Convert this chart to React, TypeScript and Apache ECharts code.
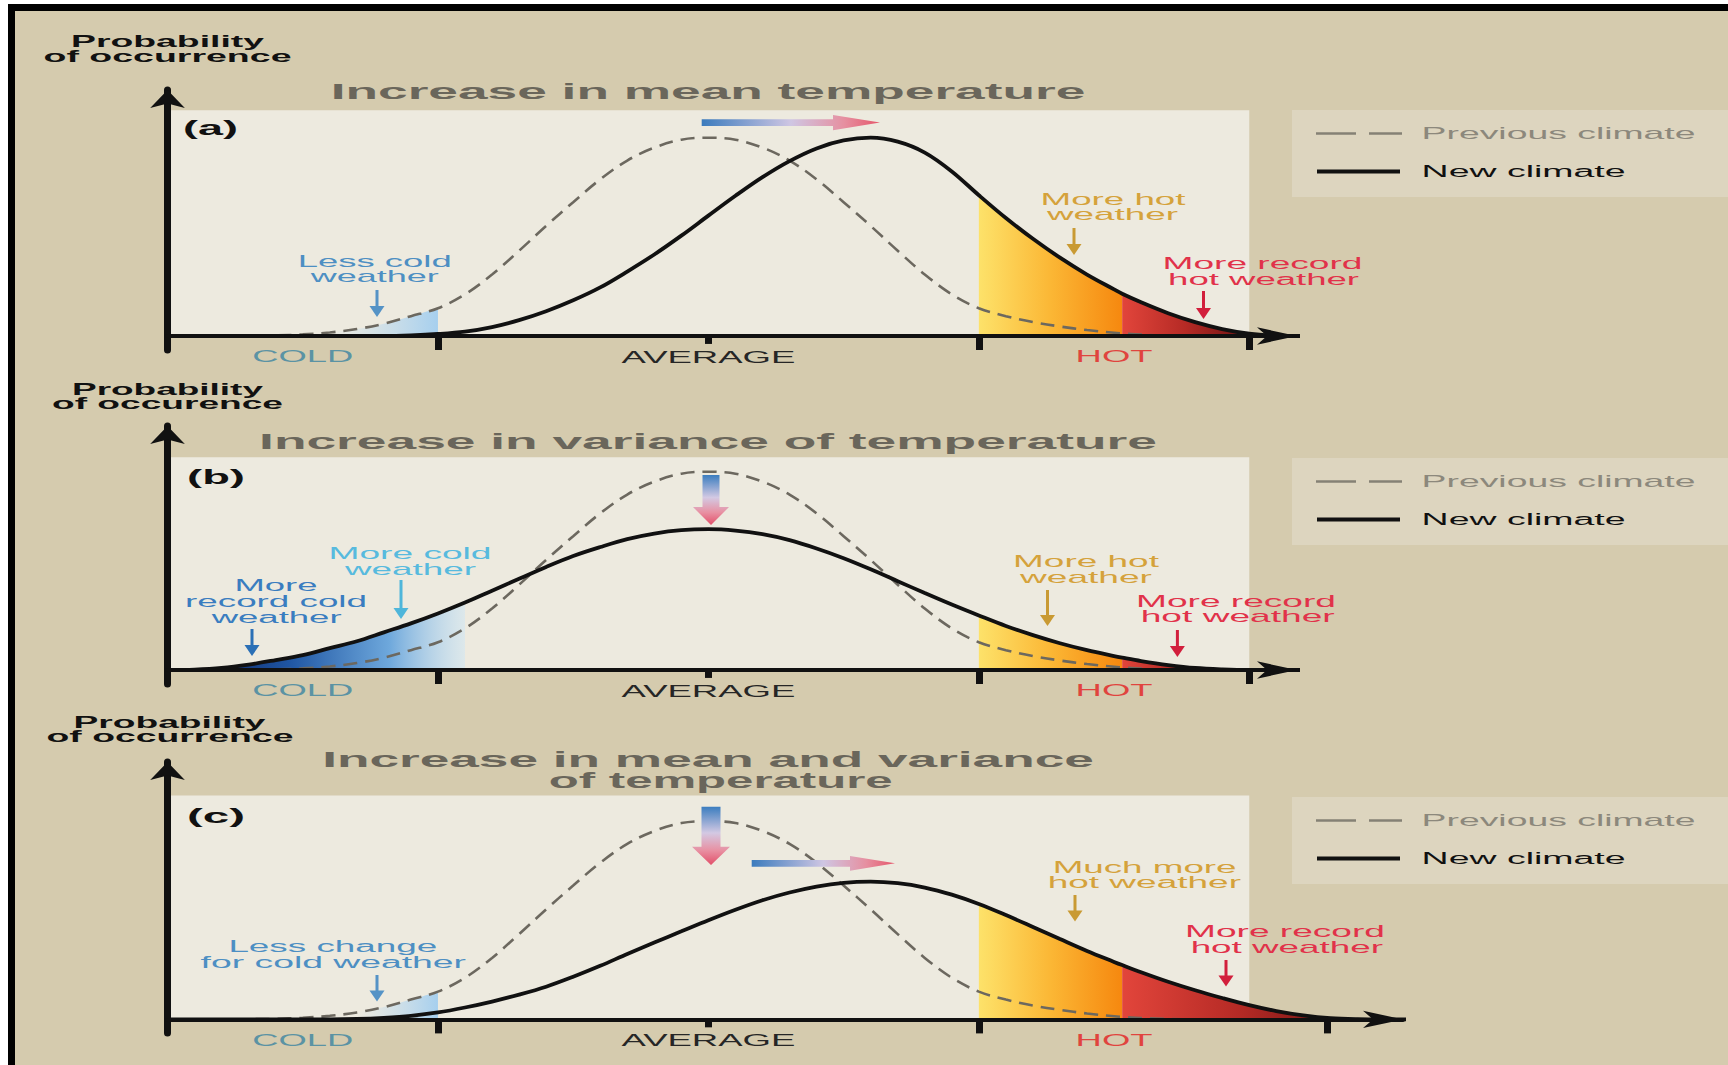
import React, { useEffect, useRef } from "react";
import * as echarts from "echarts";

// ---------------- data ----------------
// x: temperature, in steps of the reference's tick spacing (AVERAGE = 0)
const XS = [-2.0, -1.9, -1.8, -1.7, -1.6, -1.5, -1.4, -1.3, -1.2, -1.1, -1.0, -0.9, -0.8, -0.7, -0.6, -0.5, -0.4, -0.3, -0.2, -0.1, 0.0, 0.1, 0.2, 0.3, 0.4, 0.5, 0.6, 0.7, 0.8, 0.9, 1.0, 1.1, 1.2, 1.3, 1.4, 1.5, 1.53, 1.6, 1.7, 1.8, 1.9, 2.0, 2.1, 2.2, 2.3, 2.4, 2.5, 2.6];
// probability of occurrence, previous-climate peak = 1
const PREV = [0, 0, 0, 0.001, 0.003, 0.008, 0.018, 0.035, 0.062, 0.1, 0.14, 0.21, 0.31, 0.43, 0.555, 0.675, 0.79, 0.885, 0.95, 0.99, 1.0, 0.99, 0.95, 0.885, 0.79, 0.675, 0.555, 0.43, 0.31, 0.21, 0.14, 0.1, 0.07, 0.048, 0.03, 0.016, 0.013, 0.007, 0.002, 0, 0, 0, 0, 0, 0, 0, 0, 0];
const NEW_A = [0, 0, 0, 0, 0, 0, 0, 0, 0, 0.003, 0.01, 0.022, 0.045, 0.08, 0.125, 0.18, 0.245, 0.325, 0.411, 0.506, 0.607, 0.707, 0.801, 0.882, 0.946, 0.986, 1.0, 0.98, 0.925, 0.83, 0.71, 0.595, 0.49, 0.395, 0.31, 0.235, 0.213, 0.17, 0.115, 0.07, 0.035, 0.012, 0.002, 0, 0, 0, 0, 0];
const NEW_B = [0, 0.002, 0.01, 0.027, 0.05, 0.075, 0.11, 0.145, 0.19, 0.235, 0.285, 0.34, 0.4, 0.46, 0.52, 0.575, 0.62, 0.66, 0.688, 0.705, 0.71, 0.703, 0.685, 0.655, 0.613, 0.564, 0.508, 0.448, 0.388, 0.33, 0.275, 0.222, 0.176, 0.135, 0.1, 0.07, 0.062, 0.045, 0.025, 0.01, 0.003, 0, 0, 0, 0, 0, 0, 0];
const NEW_C = [0, 0, 0, 0, 0, 0, 0, 0.002, 0.008, 0.018, 0.035, 0.06, 0.09, 0.125, 0.165, 0.215, 0.27, 0.33, 0.388, 0.444, 0.5, 0.553, 0.601, 0.64, 0.67, 0.689, 0.695, 0.687, 0.665, 0.629, 0.582, 0.526, 0.466, 0.405, 0.345, 0.29, 0.274, 0.238, 0.19, 0.147, 0.108, 0.072, 0.042, 0.02, 0.006, 0.001, 0, 0];
const NEW_CLIMATE = [NEW_A, NEW_B, NEW_C];

const TICK_VALUES = [[-1, 1, 2], [-1, 1, 2], [-1, 1, 2.29]];
const AVERAGE_TICK = 0;
const TICK_LABELS = ["COLD", "AVERAGE", "HOT"];
const TICK_LABEL_VALUES = [-1.5, 0, 1.5];
const PANEL_LABELS = ["(a)", "(b)", "(c)"];
const TITLES = [["Increase in mean temperature"], ["Increase in variance of temperature"], ["Increase in mean and variance", "of temperature"]];
const Y_TITLES = [["Probability", "of occurrence"], ["Probability", "of occurence"], ["Probability", "of occurrence"]];
const LEGEND_NAMES = ["Previous climate", "New climate"];
const PLOT_TOP = [1.139, 1.073, 1.129];
const PLOT_RIGHT = 2;
// shaded tails: [curve, from, to, shade]
const FILLS = [
  [["prev", -1.4, -1.0, "light"], ["new", 1.0, 1.53, "hot"], ["new", 1.53, 2.0, "record"]],
  [["new", -1.9, -0.9, "deep"], ["new", 1.0, 1.53, "hot"], ["new", 1.53, 1.9, "record"]],
  [["prev", -1.3, -1.0, "light"], ["new", 1.0, 1.53, "hot"], ["new", 1.53, 2.4, "record"]],
];
const NOTE_TEXTS = [
  ["Less cold", "weather"],
  ["More hot", "weather"],
  ["More record", "hot weather"],
  ["More cold", "weather"],
  ["More", "record cold", "weather"],
  ["More hot", "weather"],
  ["More record", "hot weather"],
  ["Less change", "for cold weather"],
  ["Much more", "hot weather"],
  ["More record", "hot weather"],
];

// ---------------- layout & style ----------------
const W = 1728;
const H = 1065;
const X0 = 708.4; // pixel of x = 0
const PXU = 270.44; // pixels per x unit
const PYU = 198.3; // pixels per y unit
const X_MIN = -2;
const AXIS_Y = [336, 670, 1019.4];
const X_TIP = [1317, 1317, 1423];
const Y_TIP = [81, 417, 753];
const Y_BOTTOM = [350, 684, 1033];
const X_ARROW = [13, 40];
const Y_ARROW = [26, 18];
const SMOOTH = 0.35;
const FONT = "Liberation Sans";

const PAGE_BG = "#d5cbae";
const PLOT_BG = "#edeadf";
const LEGEND_BG = "#ddd5bf";
const INK = "#111111";
const DASH = "#6c685f";
const TITLE_C = "#6a665b";
const PREV_TEXT = "#8c887c";

const BLUE = "#4d8fc3";
const CYAN = "#57bade";
const MBLUE = "#3a7dc0";
const GOLD = "#d5a23b";
const RED = "#e1324a";
const TICK_LABEL_COLORS = ["#5b93a4", "#262626", "#e0443e"];
const TICK_LABEL_WIDTHS = [101, 174, 77];

const Y_TITLE_POS = [
  [[167.5, 41.5, 193], [167.5, 56.5, 248]],
  [[167.5, 389, 191], [167.5, 403.5, 231]],
  [[169.5, 722, 192], [170, 736.5, 247]],
];
const TITLE_POS = [
  [[708, 91.5, 755]],
  [[708, 441.5, 898]],
  [[708, 759, 772], [720.7, 780.5, 344]],
];
const PANEL_LABEL_POS = [[210.5, 128, 55], [216, 477, 58], [216, 816.5, 58]];
const LEGEND_TOP = [110, 458, 797];

const NOTE_LAYOUT = [
  { c: BLUE, a: "#5593c6", pos: [[374.7, 261.5, 154], [374.7, 277, 128]], arrow: [377, 290, 317] },
  { c: GOLD, a: "#c99a33", pos: [[1113, 199.5, 145], [1112.5, 214, 131]], arrow: [1074, 228, 255] },
  { c: RED, a: "#d21f3c", pos: [[1262.5, 263.5, 200], [1263.5, 279, 191]], arrow: [1203.5, 291, 319] },
  { c: CYAN, a: "#4fb6da", pos: [[410, 553, 163], [410.5, 569, 131]], arrow: [401, 580, 619] },
  { c: MBLUE, a: "#2b70b6", pos: [[276, 586, 83], [276, 601.5, 182], [276.6, 617, 130]], arrow: [252, 629, 656] },
  { c: GOLD, a: "#c99a33", pos: [[1086, 561.5, 146], [1086, 577, 132]], arrow: [1047.5, 590, 626] },
  { c: RED, a: "#d21f3c", pos: [[1236, 601.5, 200], [1237.7, 616.7, 194]], arrow: [1177.4, 630, 657] },
  { c: BLUE, a: "#5593c6", pos: [[332.8, 946.5, 209], [333.3, 962, 265.6]], arrow: [377, 975, 1001.5] },
  { c: GOLD, a: "#c99a33", pos: [[1144.6, 867, 184], [1144.3, 882.7, 193.5]], arrow: [1075, 895, 921.5] },
  { c: RED, a: "#d21f3c", pos: [[1285, 931.5, 200], [1286.8, 947, 192.5]], arrow: [1226, 960, 986.5] },
];

function shade(kind: string) {
  const G = echarts.graphic.LinearGradient;
  if (kind === "light")
    return new G(0, 0, 1, 0, [
      { offset: 0, color: "rgba(190,220,242,0)" },
      { offset: 1, color: "#a6cfee" },
    ]);
  if (kind === "deep")
    return new G(0, 0, 1, 0, [
      { offset: 0, color: "#0a1f5c" },
      { offset: 0.35, color: "#1f56a3" },
      { offset: 0.72, color: "#6ea8dc" },
      { offset: 1, color: "rgba(205,230,246,0.5)" },
    ]);
  if (kind === "hot")
    return new G(0, 0, 1, 0, [
      { offset: 0, color: "#fde26a" },
      { offset: 0.5, color: "#fbb735" },
      { offset: 1, color: "#f6880f" },
    ]);
  return new G(0, 0, 1, 0, [
    { offset: 0, color: "#e2453b" },
    { offset: 0.5, color: "#b52a25" },
    { offset: 1, color: "#6a1212" },
  ]);
}

function buildOption() {
  const grid: any[] = [];
  const xAxis: any[] = [];
  const yAxis: any[] = [];
  const series: any[] = [];
  for (let i = 0; i < 3; i++) {
    const xMax = (X_TIP[i] - X_ARROW[1] / 2 - X0) / PXU;
    const yMax = (AXIS_Y[i] - Y_TIP[i] - Y_ARROW[1] / 2) / PYU;
    const yMin = -(Y_BOTTOM[i] - AXIS_Y[i]) / PYU;
    grid.push({
      left: X0 + X_MIN * PXU,
      top: AXIS_Y[i] - yMax * PYU,
      width: (xMax - X_MIN) * PXU,
      height: (yMax - yMin) * PYU,
    });
    xAxis.push({
      gridIndex: i,
      type: "value",
      min: X_MIN,
      max: xMax,
      z: 5,
      axisLine: {
        show: true,
        onZero: true,
        symbol: ["none", "arrow"],
        symbolSize: X_ARROW,
        lineStyle: { color: INK, width: 4 },
      },
      axisTick: { show: true, customValues: TICK_VALUES[i], length: 14, lineStyle: { color: INK, width: 7 } },
      axisLabel: { show: false },
      splitLine: { show: false },
    });
    yAxis.push({
      gridIndex: i,
      type: "value",
      min: yMin,
      max: yMax,
      z: 5,
      axisLine: {
        show: true,
        onZero: false,
        symbol: ["none", "arrow"],
        symbolSize: Y_ARROW,
        lineStyle: { color: INK, width: 7 },
      },
      axisTick: { show: false },
      axisLabel: { show: false },
      splitLine: { show: false },
    });
    // plot background + short AVERAGE tick
    series.push({
      type: "line",
      xAxisIndex: i,
      yAxisIndex: i,
      data: [[X_MIN, 0]],
      symbol: "none",
      lineStyle: { opacity: 0 },
      silent: true,
      z: 1,
      markArea: {
        silent: true,
        itemStyle: { color: PLOT_BG },
        data: [[{ coord: [X_MIN, 0] }, { coord: [PLOT_RIGHT, PLOT_TOP[i]] }]],
      },
      markLine: {
        silent: true,
        symbol: ["none", "none"],
        label: { show: false },
        lineStyle: { color: INK, width: 7, type: "solid" },
        data: [[{ coord: [AVERAGE_TICK, 0] }, { coord: [AVERAGE_TICK, -0.04] }]],
      },
    });
    const newC = NEW_CLIMATE[i];
    FILLS[i].forEach((f: any) => {
      const curve = f[0] === "prev" ? PREV : newC;
      const data = XS.map((x, k) => [x, curve[k]]).filter((p) => p[0] >= f[1] - 1e-6 && p[0] <= f[2] + 1e-6);
      series.push({
        type: "line",
        xAxisIndex: i,
        yAxisIndex: i,
        data,
        smooth: SMOOTH,
        symbol: "none",
        silent: true,
        z: 2,
        lineStyle: { width: 0, opacity: 0 },
        areaStyle: { color: shade(f[3]), opacity: 1 },
      });
    });
    series.push({
      name: LEGEND_NAMES[0],
      type: "line",
      xAxisIndex: i,
      yAxisIndex: i,
      data: XS.map((x, k) => [x, PREV[k]]),
      smooth: SMOOTH,
      symbol: "none",
      silent: true,
      z: 3,
      lineStyle: { color: DASH, width: 2.6, type: [14, 8] },
    });
    series.push({
      name: LEGEND_NAMES[1],
      type: "line",
      xAxisIndex: i,
      yAxisIndex: i,
      data: XS.map((x, k) => [x, newC[k]]),
      smooth: SMOOTH,
      symbol: "none",
      silent: true,
      z: 4,
      lineStyle: { color: INK, width: 3.8 },
    });
  }
  return {
    animation: false,
    backgroundColor: PAGE_BG,
    grid,
    xAxis,
    yAxis,
    series,
  };
}

let measureCtx: any = null;
function measure(text: string, size: number, weight: string) {
  if (!measureCtx) measureCtx = document.createElement("canvas").getContext("2d");
  measureCtx.font = `${weight} ${size}px "${FONT}"`;
  return measureCtx.measureText(text).width || 1;
}

function txt(text: string, x: number, y: number, width: number, size: number, weight: string, color: string, align = "center") {
  const sx = width / measure(text, size, weight);
  return {
    type: "text",
    x,
    y,
    scaleX: sx,
    scaleY: 1,
    silent: true,
    z: 20,
    style: {
      text,
      fill: color,
      fontSize: size,
      fontWeight: weight,
      fontFamily: FONT,
      textAlign: align,
      textVerticalAlign: "middle",
      align,
      verticalAlign: "middle",
    },
  };
}

function thinArrow(x: number, y1: number, y2: number, color: string) {
  return [
    { type: "line", silent: true, z: 20, shape: { x1: x, y1, x2: x, y2: y2 - 8 }, style: { stroke: color, lineWidth: 3 } },
    {
      type: "polygon",
      silent: true,
      z: 20,
      shape: { points: [[x - 7.5, y2 - 11], [x + 7.5, y2 - 11], [x, y2]] },
      style: { fill: color },
    },
  ];
}

function hGradArrow(x1: number, hx: number, x2: number, cy: number, sh: number, hh: number) {
  return {
    type: "polygon",
    silent: true,
    z: 20,
    shape: { points: [[x1, cy - sh], [hx, cy - sh], [hx, cy - hh], [x2, cy], [hx, cy + hh], [hx, cy + sh], [x1, cy + sh]] },
    style: {
      fill: new echarts.graphic.LinearGradient(0, 0, 1, 0, [
        { offset: 0, color: "#3b7bbd" },
        { offset: 0.5, color: "#cfc6e3" },
        { offset: 0.8, color: "#e68fa0" },
        { offset: 1, color: "#e5566a" },
      ]),
    },
  };
}

function vGradArrow(cx: number, y1: number, hy: number, y2: number, sw: number, hw: number) {
  return {
    type: "polygon",
    silent: true,
    z: 20,
    shape: { points: [[cx - sw, y1], [cx + sw, y1], [cx + sw, hy], [cx + hw, hy], [cx, y2], [cx - hw, hy], [cx - sw, hy]] },
    style: {
      fill: new echarts.graphic.LinearGradient(0, 0, 0, 1, [
        { offset: 0, color: "#3b7dbf" },
        { offset: 0.45, color: "#d3c9e3" },
        { offset: 0.75, color: "#e890a2" },
        { offset: 1, color: "#e2506a" },
      ]),
    },
  };
}

function buildGraphics(chart: any) {
  const g: any[] = [];
  for (let i = 0; i < 3; i++) {
    // tick labels through the axis scale
    TICK_LABELS.forEach((lab, j) => {
      const p = chart.convertToPixel({ gridIndex: i }, [TICK_LABEL_VALUES[j], 0]);
      g.push(txt(lab, p[0], p[1] + 21, TICK_LABEL_WIDTHS[j], 16, "normal", TICK_LABEL_COLORS[j]));
    });
    Y_TITLES[i].forEach((t, j) => {
      const [x, y, w] = Y_TITLE_POS[i][j];
      g.push(txt(t, x, y, w, 16, "bold", INK));
    });
    TITLES[i].forEach((t, j) => {
      const [x, y, w] = TITLE_POS[i][j];
      g.push(txt(t, x, y, w, 22, "bold", TITLE_C));
    });
    const [lx, ly, lw] = PANEL_LABEL_POS[i];
    g.push(txt(PANEL_LABELS[i], lx, ly, lw, 20, "bold", INK));
    // legend
    const top = LEGEND_TOP[i];
    g.push({ type: "rect", silent: true, z: 6, shape: { x: 1292, y: top, width: W - 1292, height: 87 }, style: { fill: LEGEND_BG } });
    g.push({ type: "line", silent: true, z: 20, shape: { x1: 1316, y1: top + 23.5, x2: 1356, y2: top + 23.5 }, style: { stroke: "#858175", lineWidth: 2.6 } });
    g.push({ type: "line", silent: true, z: 20, shape: { x1: 1369, y1: top + 23.5, x2: 1402, y2: top + 23.5 }, style: { stroke: "#858175", lineWidth: 2.6 } });
    g.push({ type: "line", silent: true, z: 20, shape: { x1: 1317, y1: top + 61.5, x2: 1400, y2: top + 61.5 }, style: { stroke: INK, lineWidth: 3.8 } });
    g.push(txt(LEGEND_NAMES[0], 1421.6, top + 23.5, 274, 16, "normal", PREV_TEXT, "left"));
    g.push(txt(LEGEND_NAMES[1], 1421.6, top + 61.5, 204, 16, "normal", INK, "left"));
  }
  NOTE_TEXTS.forEach((lines, n) => {
    const L = NOTE_LAYOUT[n];
    lines.forEach((t, j) => {
      const [x, y, w] = L.pos[j];
      g.push(txt(t, x, y, w, 16, "normal", L.c));
    });
    g.push(...thinArrow(L.arrow[0], L.arrow[1], L.arrow[2], L.a));
  });
  // shift arrows
  g.push(hGradArrow(701.7, 833, 880, 122.6, 3.4, 7.6));
  g.push(vGradArrow(711, 475, 507, 525, 8.5, 18));
  g.push(vGradArrow(711, 806.7, 846.7, 865, 9.5, 19));
  g.push(hGradArrow(751.7, 850, 895, 863.3, 3.4, 7.4));
  // frame
  g.push({ type: "rect", silent: true, z: 50, shape: { x: 0, y: 0, width: W, height: 4 }, style: { fill: "#ffffff" } });
  g.push({ type: "rect", silent: true, z: 50, shape: { x: 0, y: 0, width: 8, height: H }, style: { fill: "#ffffff" } });
  g.push({ type: "rect", silent: true, z: 51, shape: { x: 8, y: 4, width: W - 8, height: 7 }, style: { fill: "#000000" } });
  g.push({ type: "rect", silent: true, z: 51, shape: { x: 8, y: 4, width: 7, height: H - 4 }, style: { fill: "#000000" } });
  return g;
}

export default function App() {
  const ref = useRef<HTMLDivElement>(null);
  useEffect(() => {
    if (!ref.current) return;
    document.body.style.margin = "0";
    const chart = echarts.init(ref.current, null, { renderer: "svg", width: W, height: H });
    chart.setOption(buildOption());
    chart.setOption({ graphic: buildGraphics(chart) });
    return () => chart.dispose();
  }, []);
  return <div ref={ref} style={{ position: "fixed", left: 0, top: 0, width: W, height: H }} />;
}
